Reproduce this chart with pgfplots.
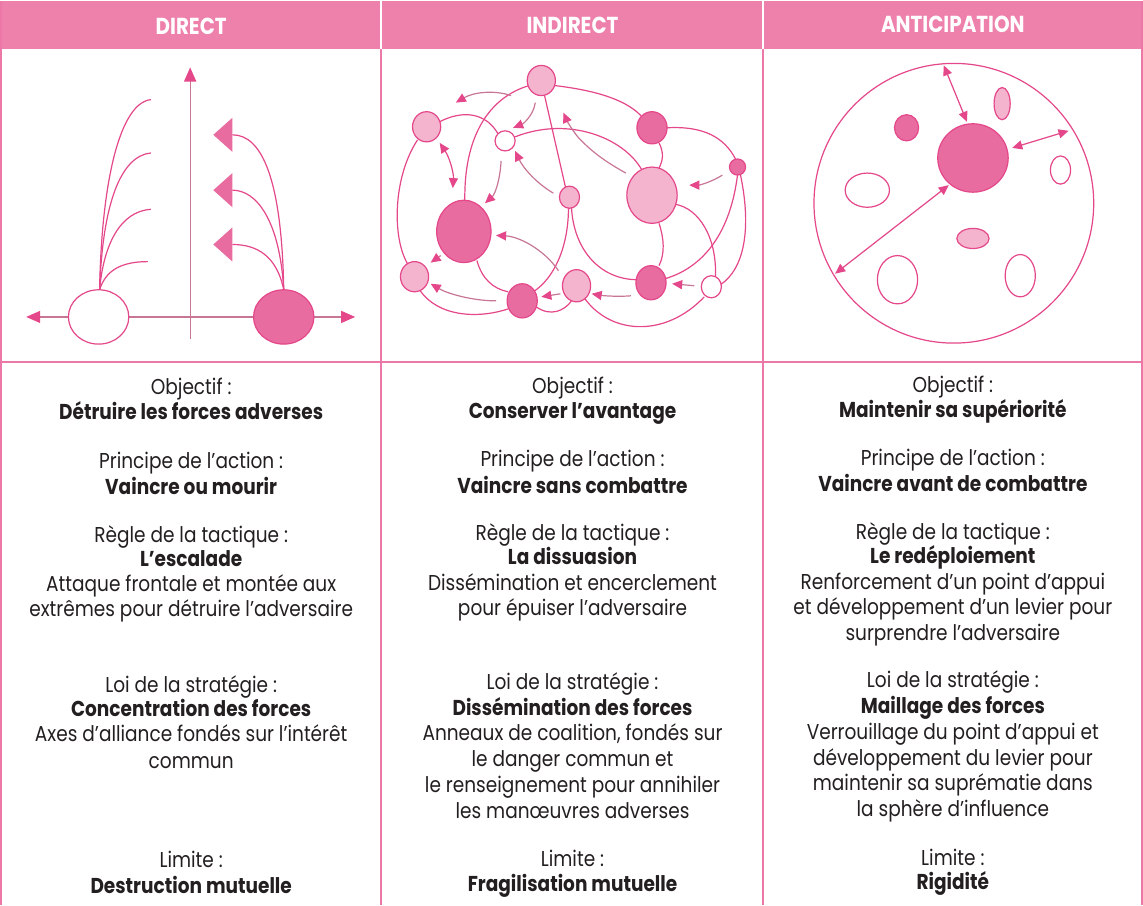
\documentclass[border=0pt]{standalone}
\usepackage{pgfplots}
\pgfplotsset{compat=1.18}
\usetikzlibrary{arrows.meta}
\usepackage{fontspec}
\setmainfont{Poppins}[FakeStretch=0.86]

\definecolor{pk}{RGB}{228,72,138}
\definecolor{pkdark}{RGB}{232,108,160}
\definecolor{pklight}{RGB}{245,180,206}
\definecolor{pkhead}{RGB}{238,128,172}
\definecolor{pkline}{RGB}{236,120,168}
\definecolor{pkgray}{RGB}{200,118,150}
\definecolor{txt}{RGB}{35,30,32}

\tikzset{
  reg/.style={anchor=base, text=txt, inner sep=0pt, font=\fontsize{10.7}{12}\selectfont},
  bld/.style={reg, font=\fontsize{10.7}{12}\selectfont\bfseries},
  hd/.style={anchor=base, text=white, inner sep=0pt, font=\fontsize{11.5}{12}\selectfont\bfseries},
  ln/.style={pk, line width=0.6pt},
  ar/.style={pkgray, line width=0.6pt, -{Triangle[length=5pt,width=4.5pt,color=pk]}},
  dar/.style={pk, line width=0.6pt, {Triangle[length=5pt,width=4.5pt]}-{Triangle[length=5pt,width=4.5pt]}},
}

\begin{document}
\begin{tikzpicture}
\begin{axis}[
  scale only axis, width=571.5pt, height=451pt,
  xmin=0, xmax=1143, ymin=0, ymax=902, y dir=reverse,
  hide axis, clip=false,
]
% frame
\fill[pkhead] (6,4) rectangle (1140,52);
\draw[white, line width=1pt] (384,4) -- (384,52) (763,4) -- (763,52);
\draw[pkline, line width=1pt] (6,4) -- (6,902) (1140,4) -- (1140,902)
  (384,52) -- (384,902) (763,52) -- (763,902);
\draw[pkline, line width=0.8pt] (6,363) -- (1140,363);
\node[hd] at (195,37) {DIRECT};
\node[hd] at (574,36) {INDIRECT};
\node[hd] at (952,35) {ANTICIPATION};

% ---- panel 1 : direct
\draw[pkgray, line width=0.6pt, -{Triangle[length=7pt,width=6pt,color=pk]}] (194,340) -- (194,70);
\draw[pkgray, line width=0.6pt, -{Triangle[length=7pt,width=6pt,color=pk]}] (194,318) -- (31,318);
\draw[pkgray, line width=0.6pt, -{Triangle[length=7pt,width=6pt,color=pk]}] (194,318) -- (358,318);
\draw[ln] (104,291) .. controls (106,180) and (125,105) .. (155,102);
\draw[ln] (104,291) .. controls (107,205) and (125,158) .. (155,155);
\draw[ln] (104,291) .. controls (108,245) and (125,213) .. (155,211);
\draw[ln] (104,291) .. controls (110,272) and (125,263) .. (152,263);
\draw[ln] (287,291) .. controls (285,180) and (265,137) .. (236,137);
\draw[ln] (287,291) .. controls (283,222) and (260,192) .. (236,192);
\draw[ln] (287,291) .. controls (280,257) and (260,246) .. (236,246);
\fill[pkdark] (217,137) -- (236,120) -- (236,154) -- cycle;
\fill[pkdark] (217,192) -- (236,175) -- (236,209) -- cycle;
\fill[pkdark] (217,246) -- (236,229) -- (236,263) -- cycle;
\draw[ln, fill=white] (103,318) ellipse [x radius=30, y radius=27];
\draw[ln, fill=pkdark] (287,318) ellipse [x radius=30, y radius=27];

% ---- panel 2 : indirect
\draw[ln] (531,88) .. controls (490,100) and (466,140) .. (467,202);
\draw[ln] (556,88) .. controls (590,92) and (625,100) .. (642,118);
\draw[ln] (546,97) -- (567,189);
\draw[ln] (442,124) .. controls (465,112) and (488,115) .. (500,136);
\draw[ln] (420,142) .. controls (395,180) and (395,240) .. (410,265);
\draw[ln] (517,139) .. controls (570,118) and (625,140) .. (643,172);
\draw[ln] (660,145) .. controls (665,155) and (664,162) .. (660,170);
\draw[ln] (668,130) .. controls (705,128) and (725,140) .. (736,161);
\draw[ln] (666,280) .. controls (700,270) and (730,240) .. (738,177);
\draw[ln] (741,177) .. controls (752,230) and (745,270) .. (721,286);
\draw[ln] (676,206) .. controls (700,210) and (718,240) .. (716,279);
\draw[ln] (660,225) .. controls (665,240) and (666,255) .. (660,267);
\draw[ln] (570,209) .. controls (570,250) and (555,280) .. (535,293);
\draw[ln] (573,209) .. controls (575,250) and (600,280) .. (637,281);
\draw[ln] (479,262) .. controls (484,280) and (495,290) .. (510,293);
\draw[ln] (422,291) .. controls (440,318) and (480,320) .. (510,310);
\draw[ln] (538,308) .. controls (552,318) and (566,312) .. (573,302);
\draw[ln] (585,298) .. controls (610,335) and (665,340) .. (705,298);
% nodes
\draw[ln, fill=pklight] (543,83) ellipse [x radius=14, y radius=15];
\draw[ln, fill=pklight] (429,129) ellipse [x radius=14, y radius=15];
\draw[ln, fill=white] (507,143) ellipse [x radius=10, y radius=10];
\draw[ln, fill=pkdark] (653,130) ellipse [x radius=15, y radius=16];
\draw[ln, fill=pkdark] (738,169) ellipse [x radius=8, y radius=8];
\draw[ln, fill=pklight] (653,197) ellipse [x radius=25, y radius=28];
\draw[ln, fill=pklight] (571,199) ellipse [x radius=10, y radius=11];
\draw[ln, fill=pkdark] (466,233) ellipse [x radius=27, y radius=31];
\draw[ln, fill=pklight] (417,278) ellipse [x radius=14, y radius=15];
\draw[ln, fill=pkdark] (524,302) ellipse [x radius=15, y radius=17];
\draw[ln, fill=pklight] (578,287) ellipse [x radius=14, y radius=16];
\draw[ln, fill=pkdark] (652,284) ellipse [x radius=15, y radius=17];
\draw[ln, fill=white] (712,288) ellipse [x radius=10, y radius=11];
% arrows
\draw[ar] (513,98) .. controls (495,92) and (475,95) .. (458,105);
\draw[ar] (537,105) .. controls (535,118) and (525,126) .. (515,130);
\draw[dar] (442,145) .. controls (452,160) and (456,175) .. (455,190);
\draw[ar] (503,163) .. controls (502,182) and (497,196) .. (487,205);
\draw[ar] (555,195) .. controls (538,185) and (525,170) .. (517,153);
\draw[ar] (627,175) .. controls (600,160) and (590,150) .. (580,140) .. controls (572,130) and (568,122) .. (565,115);
\draw[ar] (723,177) .. controls (712,184) and (700,187) .. (690,187);
\draw[ar] (560,272) .. controls (545,250) and (520,238) .. (498,237);
\draw[ar] (443,257) -- (433,264);
\draw[ar] (498,302) .. controls (475,302) and (450,295) .. (433,285);
\draw[ar] (562,295) -- (543,298);
\draw[ar] (632,297) .. controls (620,298) and (605,297) .. (593,295);
\draw[ar] (695,287) -- (673,285);

% ---- panel 3 : anticipation
\draw[ln, fill=white] (953,205) ellipse [x radius=139, y radius=139];
\draw[ln, fill=pkdark] (972,160) ellipse [x radius=35, y radius=34];
\draw[ln, fill=pkdark] (906,130) ellipse [x radius=12, y radius=13];
\draw[ln, fill=pklight] (1001,106) ellipse [x radius=8, y radius=16];
\draw[ln, fill=white] (1059,172) ellipse [x radius=10, y radius=14];
\draw[ln, fill=white] (867,192) ellipse [x radius=22, y radius=17];
\draw[ln, fill=pklight] (972,240) ellipse [x radius=16, y radius=10];
\draw[ln, fill=white] (897,281) ellipse [x radius=20, y radius=24];
\draw[ln, fill=white] (1019,277) ellipse [x radius=15, y radius=21];
\draw[dar] (943,68) -- (966,124);
\draw[dar] (1011,150) -- (1067,133);
\draw[dar] (835,275) -- (948,187);

% ---- texts, column 1
\node[reg] at (195,395) {Objectif :};
\node[bld] at (195,420) {Détruire les forces adverses};
\node[reg] at (195,469) {Principe de l’action :};
\node[bld] at (195,494) {Vaincre ou mourir};
\node[reg] at (195,542) {Règle de la tactique :};
\node[bld] at (195,566) {L’escalade};
\node[reg] at (195,591) {Attaque frontale et montée aux};
\node[reg] at (195,616) {extrêmes pour détruire l’adversaire};
\node[reg] at (195,691) {Loi de la stratégie :};
\node[bld] at (195,715) {Concentration des forces};
\node[reg] at (195,740) {Axes d’alliance fondés sur l’intérêt};
\node[reg] at (195,767) {commun};
\node[reg] at (195,865) {Limite :};
\node[bld] at (195,891) {Destruction mutuelle};
% column 2
\node[reg] at (574,394) {Objectif :};
\node[bld] at (574,419) {Conserver l’avantage};
\node[reg] at (574,467) {Principe de l’action :};
\node[bld] at (574,493) {Vaincre sans combattre};
\node[reg] at (574,540) {Règle de la tactique :};
\node[bld] at (574,564) {La dissuasion};
\node[reg] at (574,590) {Dissémination et encerclement};
\node[reg] at (574,615) {pour épuiser l’adversaire};
\node[reg] at (574,688) {Loi de la stratégie :};
\node[bld] at (574,714) {Dissémination des forces};
\node[reg] at (574,739) {Anneaux de coalition, fondés sur};
\node[reg] at (574,765) {le danger commun et};
\node[reg] at (574,791) {le renseignement pour annihiler};
\node[reg] at (574,816) {les manœuvres adverses};
\node[reg] at (574,864) {Limite :};
\node[bld] at (574,889) {Fragilisation mutuelle};
% column 3
\node[reg] at (952,393) {Objectif :};
\node[bld] at (952,418) {Maintenir sa supériorité};
\node[reg] at (952,466) {Principe de l’action :};
\node[bld] at (952,491) {Vaincre avant de combattre};
\node[reg] at (952,539) {Règle de la tactique :};
\node[bld] at (952,563) {Le redéploiement};
\node[reg] at (952,589) {Renforcement d’un point d’appui};
\node[reg] at (952,614) {et développement d’un levier pour};
\node[reg] at (952,640) {surprendre l’adversaire};
\node[reg] at (952,686) {Loi de la stratégie :};
\node[bld] at (952,712) {Maillage des forces};
\node[reg] at (952,738) {Verrouillage du point d’appui et};
\node[reg] at (952,764) {développement du levier pour};
\node[reg] at (952,789) {maintenir sa suprématie dans};
\node[reg] at (952,814) {la sphère d’influence};
\node[reg] at (952,863) {Limite :};
\node[bld] at (952,887) {Rigidité};
\end{axis}
\end{tikzpicture}
\end{document}
